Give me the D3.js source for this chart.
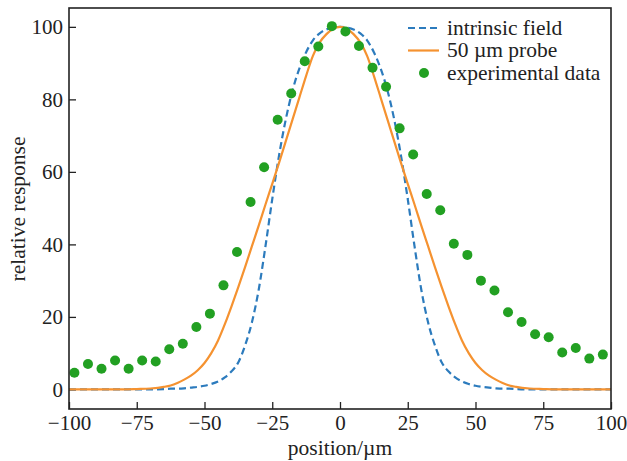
<!DOCTYPE html>
<html>
<head>
<meta charset="utf-8">
<script src="https://cdn.jsdelivr.net/npm/d3@7"></script>
<style>
  body { margin: 0; background: #fff; }
  svg { display: block; font-family: "Liberation Serif", "Times New Roman", serif; }
  .axis text { font-family: "Liberation Serif", "Times New Roman", serif; font-size: 21px; fill: #222; }
  .axis line { stroke: #222; stroke-width: 1.3; }
  .title { font-size: 21.5px; fill: #222; }
  .legend text { font-size: 21.5px; fill: #222; }
</style>
</head>
<body>
<svg id="chart"></svg>
<script>
// positions of the curve samples (um), shared by both model curves
const curveX = [-100, -90, -80, -75, -70, -65, -62.5, -60, -57.5, -55, -52.5, -50, -47.5, -45, -42.5, -40,
  -37.5, -35, -32.5, -30, -27.5, -25, -22.5, -20, -17.5, -15, -12.5, -10, -7.5, -5, -2.5, 0,
  2.5, 5, 7.5, 10, 12.5, 15, 17.5, 20, 22.5, 25, 27.5, 30, 32.5, 35, 37.5, 40,
  42.5, 45, 47.5, 50, 52.5, 55, 57.5, 60, 62.5, 65, 70, 75, 80, 90, 100];

// intrinsic field (dashed)
const intrinsicY = [0, 0, 0, 0, 0, 0.1, 0.2, 0.2, 0.3, 0.5, 0.7, 1, 1.5, 2.2, 3.3, 5,
  7.5, 12.2, 18.5, 27.5, 39.5, 52.5, 64.5, 74.5, 82.5, 88.5, 93, 96.3, 98.2, 99.3, 99.8, 100,
  99.8, 99.3, 98.2, 96.3, 93, 88.5, 82.5, 74.5, 64.5, 52.5, 39.5, 27.5, 18.5, 12.2, 7.5, 5,
  3.3, 2.2, 1.5, 1, 0.7, 0.5, 0.3, 0.2, 0.2, 0.1, 0, 0, 0, 0, 0];

// 50 um probe (solid)
const probeY = [0, 0, 0, 0.1, 0.25, 0.7, 1.1, 1.8, 2.7, 3.8, 5.3, 7.3, 10, 13.5, 18, 23,
  28.3, 33.8, 39.5, 45.2, 51, 56.7, 62.5, 68.5, 74.5, 80.5, 86.5, 92, 95.7, 98, 99.5, 100,
  99.5, 98, 95.7, 92, 86.5, 80.5, 74.5, 68.5, 62.5, 56.7, 51, 45.2, 39.5, 33.8, 28.3, 23,
  18, 13.5, 10, 7.3, 5.3, 3.8, 2.7, 1.8, 1.1, 0.7, 0.25, 0.1, 0, 0, 0];

// experimental data points
const expX = [-98, -93, -88, -83, -78, -73, -68, -63, -58, -53, -48, -43, -38, -33, -28, -23, -18, -13, -8, -3,
  2, 7, 12, 17, 22, 27, 32, 37, 42, 47, 52, 57, 62, 67, 72, 77, 82, 87, 92, 97];
const expY = [4.6, 7.0, 5.7, 8.0, 5.7, 8.0, 7.7, 11.1, 12.6, 17.2, 20.9, 28.7, 37.9, 51.7, 61.3, 74.4, 81.6, 90.5, 94.6, 100.2,
  98.7, 94.7, 88.7, 83.5, 72.0, 64.8, 53.9, 49.4, 40.2, 37.1, 30.0, 27.3, 21.3, 18.6, 15.2, 14.4, 10.2, 11.4, 8.5, 9.6];

const xTicks = [-100, -75, -50, -25, 0, 25, 50, 75, 100];
const yTicks = [0, 20, 40, 60, 80, 100];

const legendLabels = ['intrinsic field', '50 \u00b5m probe', 'experimental data'];

const colors = { intrinsic: '#2c7bbd', probe: '#f59230', data: '#22a022' };

class ProfilePlot {
    constructor(config_) {
        this.config = config_;
        this.initVis();
    }

    initVis() {
        let vis = this;
        const m = vis.config.margin;
        vis.width = vis.config.width - m.left - m.right;
        vis.height = vis.config.height - m.top - m.bottom;

        vis.xScale = d3.scaleLinear().domain([-100, 100]).range([0, vis.width]);
        vis.yScale = d3.scaleLinear().domain([-5.4, 105.2]).range([vis.height, 0]);

        vis.svg = d3.select(vis.config.svgElement)
            .attr('width', vis.config.width)
            .attr('height', vis.config.height);

        vis.chart = vis.svg.append('g')
            .attr('transform', `translate(${m.left},${m.top})`);

        // ticks point inward, labels sit outside
        vis.xAxis = d3.axisBottom(vis.xScale)
            .tickValues(xTicks)
            .tickSize(-7)
            .tickPadding(6);

        vis.yAxis = d3.axisLeft(vis.yScale)
            .tickValues(yTicks)
            .tickSize(-7)
            .tickPadding(6);

        vis.xAxisG = vis.chart.append('g')
            .attr('class', 'axis x-axis')
            .attr('transform', `translate(0,${vis.height})`);

        vis.yAxisG = vis.chart.append('g')
            .attr('class', 'axis y-axis');

        vis.chart.append('text')
            .attr('class', 'title')
            .attr('x', vis.width / 2)
            .attr('y', vis.height + 46)
            .style('text-anchor', 'middle')
            .text('position/\u00b5m');

        vis.svg.append('text')
            .attr('class', 'title')
            .attr('transform', 'translate(25,209) rotate(-90)')
            .style('text-anchor', 'middle')
            .text('relative response');

        vis.renderVis();
    }

    renderVis() {
        const vis = this;
        const line = d3.line()
            .x(d => vis.xScale(d[0]))
            .y(d => vis.yScale(d[1]))
            .curve(d3.curveMonotoneX);

        vis.chart.append('path')
            .datum(curveX.map((x, i) => [x, intrinsicY[i]]))
            .attr('fill', 'none')
            .attr('stroke', colors.intrinsic)
            .attr('stroke-width', 2.2)
            .attr('stroke-dasharray', '7,4')
            .attr('d', line);

        vis.chart.append('path')
            .datum(curveX.map((x, i) => [x, probeY[i]]))
            .attr('fill', 'none')
            .attr('stroke', colors.probe)
            .attr('stroke-width', 2.2)
            .attr('d', line);

        vis.chart.selectAll('.point')
            .data(expX.map((x, i) => [x, expY[i]]))
            .join('circle')
            .attr('class', 'point')
            .attr('cx', d => vis.xScale(d[0]))
            .attr('cy', d => vis.yScale(d[1]))
            .attr('r', 5)
            .attr('fill', colors.data);

        vis.xAxisG.call(vis.xAxis).call(g => g.select('.domain').remove());
        vis.yAxisG.call(vis.yAxis).call(g => g.select('.domain').remove());

        // plot frame
        vis.chart.append('rect')
            .attr('width', vis.width)
            .attr('height', vis.height)
            .attr('fill', 'none')
            .attr('stroke', '#222')
            .attr('stroke-width', 1.6);

        // legend
        const legend = vis.chart.append('g')
            .attr('class', 'legend')
            .attr('transform', 'translate(339,20)');
        const rowH = 22.5;

        legend.append('line')
            .attr('x1', 0).attr('x2', 31).attr('y1', 0).attr('y2', 0)
            .attr('stroke', colors.intrinsic)
            .attr('stroke-width', 2.2)
            .attr('stroke-dasharray', '7,4');
        legend.append('line')
            .attr('x1', 0).attr('x2', 31).attr('y1', rowH).attr('y2', rowH)
            .attr('stroke', colors.probe)
            .attr('stroke-width', 2.2);
        legend.append('circle')
            .attr('cx', 16).attr('cy', rowH * 2)
            .attr('r', 5)
            .attr('fill', colors.data);

        legend.selectAll('text')
            .data(legendLabels)
            .join('text')
            .attr('x', 39)
            .attr('y', (d, i) => i * rowH)
            .attr('dy', '0.32em')
            .text(d => d);
    }
}

new ProfilePlot({
    svgElement: '#chart',
    width: 627,
    height: 461,
    margin: { top: 8, right: 16, bottom: 52, left: 69 }
});
</script>
</body>
</html>
